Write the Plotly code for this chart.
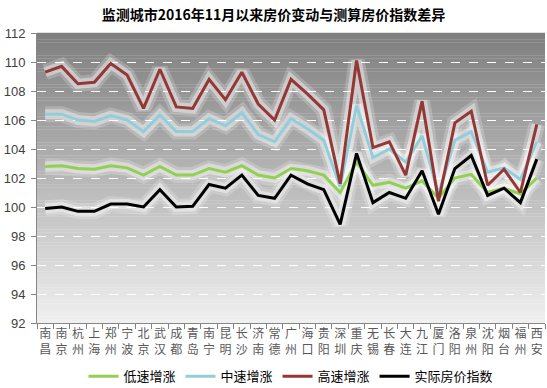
import plotly.graph_objects as go

cities = ["南昌", "南京", "杭州", "上海", "郑州", "宁波", "北京", "武汉", "成都", "青岛",
          "南宁", "昆明", "长沙", "济南", "常德", "广州", "海口", "贵阳", "深圳", "重庆",
          "无锡", "长春", "大连", "九江", "厦门", "洛阳", "泉州", "沈阳", "烟台", "福州", "西安"]

low_speed = [102.8, 102.85, 102.65, 102.6, 102.85, 102.7, 102.2, 102.8, 102.2, 102.2,
             102.65, 102.4, 102.85, 102.2, 102.0, 102.65, 102.5, 102.2, 101.0, 103.1,
             101.5, 101.7, 101.3, 101.8, 100.6, 102.0, 102.25, 101.0, 101.3, 100.9, 102.0]

mid_speed = [106.4, 106.4, 106.0, 105.9, 106.3, 106.0, 105.2, 106.35, 105.2, 105.2,
             106.1, 105.6, 106.5, 105.0, 104.5, 106.1, 105.4, 104.6, 101.4, 107.0,
             103.4, 104.0, 103.1, 104.9, 100.9, 104.6, 105.2, 102.4, 102.7, 101.9, 104.5]

high_speed = [109.3, 109.7, 108.5, 108.6, 109.9, 109.1, 106.8, 109.5, 106.9, 106.8,
              108.8, 107.4, 109.3, 107.1, 106.0, 108.8, 107.8, 106.7, 101.6, 110.1,
              104.1, 104.5, 102.2, 107.3, 100.4, 105.8, 106.6, 101.5, 102.6, 101.0, 105.7]

actual_index = [99.9, 100.0, 99.7, 99.7, 100.2, 100.2, 100.0, 101.2, 100.0, 100.05,
                101.55, 101.3, 102.2, 100.8, 100.6, 102.2, 101.6, 101.2, 98.8, 103.7,
                100.3, 101.0, 100.6, 102.5, 99.5, 102.65, 103.55, 100.8, 101.3, 100.3, 103.3]

series = [
    ("低速增涨", low_speed, "#92d050"),
    ("中速增涨", mid_speed, "#92cddc"),
    ("高速增涨", high_speed, "#953735"),
    ("实际房价指数", actual_index, "#000000"),
]

y_ticks = [92, 94, 96, 98, 100, 102, 104, 106, 108, 110, 112]

xlabels = [c[0] + "<br>" + c[1] for c in cities]

fig = go.Figure()

# glow layers
for name, vals, color in series:
    for w, op in [(16, 0.2), (10, 0.4)]:
        fig.add_trace(go.Scatter(x=xlabels, y=vals, mode="lines",
                                 line=dict(color="white", width=w, shape="linear"),
                                 opacity=op, showlegend=False, hoverinfo="skip"))

for name, vals, color in series:
    fig.add_trace(go.Scatter(x=xlabels, y=vals, mode="lines", name=name,
                             line=dict(color=color, width=3)))

# gradient background bands
shapes = []
n = 90
top = (127, 127, 127)
bot = (240, 240, 240)
for i in range(n):
    t = i / (n - 1)
    r = int(top[0] + (bot[0] - top[0]) * t)
    g = int(top[1] + (bot[1] - top[1]) * t)
    b = int(top[2] + (bot[2] - top[2]) * t)
    shapes.append(dict(type="rect", xref="paper", yref="paper",
                       x0=0, x1=1, y0=1 - (i + 1) / n, y1=1 - i / n + 0.001,
                       fillcolor=f"rgb({r},{g},{b})", line=dict(width=0), layer="below"))

fig.update_layout(
    width=547, height=388,
    margin=dict(l=37, r=2, t=33, b=65, autoexpand=False),
    paper_bgcolor="white",
    plot_bgcolor="white",
    shapes=shapes,
    title=dict(text="<b>监测城市2016年11月以来房价变动与测算房价指数差异</b>",
               x=0.5, xanchor="center", y=0.962, yanchor="middle",
               font=dict(family="Noto Sans CJK SC", size=14, color="black")),
    font=dict(family="Noto Sans CJK SC", color="#404040"),
    xaxis=dict(type="category", showgrid=False, showline=True, linecolor="#868686",
               ticks="outside", tickson="boundaries", ticklen=5, tickcolor="#868686",
               tickfont=dict(size=12, color="#595959"), tickangle=0,
               range=[-0.5, len(cities) - 0.5], zeroline=False, automargin=False,
               ticklabelstandoff=0),
    yaxis=dict(range=[92, 112], tickvals=y_ticks, showgrid=True,
               gridcolor="white", griddash="dash", gridwidth=1,
               showline=True, linecolor="#868686", ticks="outside", ticklen=5,
               tickcolor="#868686", zeroline=False, automargin=False,
               ticklabelstandoff=3,
               tickfont=dict(family="Liberation Sans", size=13, color="#404040")),
    legend=dict(orientation="h", x=0.5, xanchor="center",
                yref="container", y=0.03, yanchor="middle",
                font=dict(size=13, color="#000000"), bgcolor="rgba(0,0,0,0)",
                itemwidth=30, tracegroupgap=0),
)

fig.write_html("out.html", config={"displayModeBar": False},
               post_script="document.body.style.margin='0';document.body.style.overflow='hidden';")
